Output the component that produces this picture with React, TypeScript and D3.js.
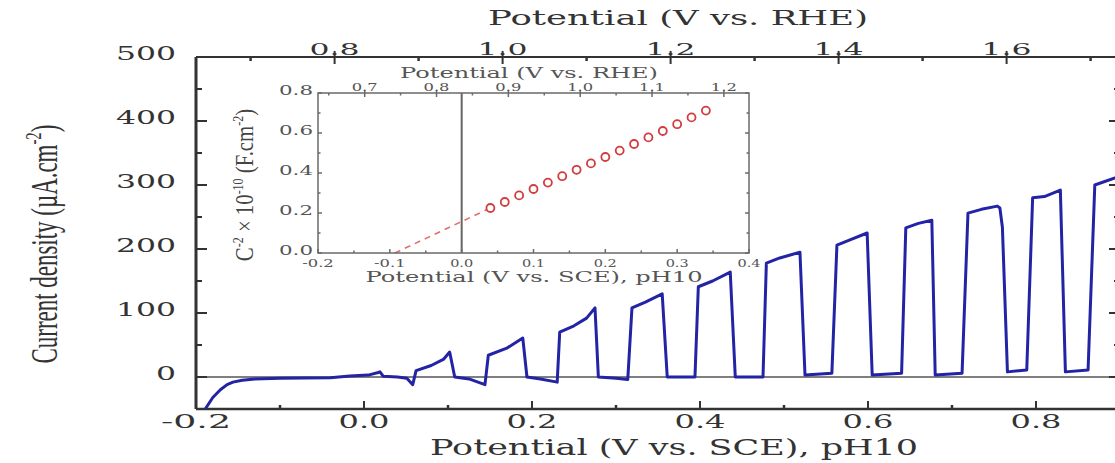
import React from 'react';
import * as d3 from 'd3';

// photocurrent under chopped light, potential vs SCE (V) and current density (uA/cm2)
const scePotential = [
  -0.189, -0.18, -0.171, -0.163, -0.156, -0.145, -0.13, -0.1, -0.07, -0.04, -0.017, 0.005, 0.017, 0.019, 0.023, 0.04, 0.051, 0.058,
  0.062, 0.08, 0.095, 0.102, 0.108, 0.125, 0.144,
  0.148, 0.17, 0.189, 0.194, 0.21, 0.23,
  0.233, 0.25, 0.265, 0.275, 0.279, 0.3, 0.314,
  0.319, 0.335, 0.355, 0.361, 0.394,
  0.398, 0.415, 0.436, 0.442, 0.475,
  0.479, 0.495, 0.519, 0.525, 0.557,
  0.563, 0.58, 0.599, 0.605, 0.64,
  0.645, 0.66, 0.676, 0.68, 0.712,
  0.719, 0.735, 0.754, 0.757, 0.76, 0.766, 0.789,
  0.796, 0.81, 0.829, 0.835, 0.862,
  0.87, 0.894, 0.91,
];
const currentDensity = [
  -50, -32, -20, -12, -8, -5, -3, -2, -1.5, -1, 1.5, 3, 7, 8, 1, 0, -2, -12,
  10, 18, 28, 39, 0, -3, -12,
  34, 45, 61, 0, -3, -8,
  70, 80, 92, 108, 0, -2, -4,
  108, 117, 130, 0, 0,
  141, 150, 164, 0, 0,
  178, 186, 195, 3, 6,
  206, 215, 225, 3, 6,
  233, 240, 245, 3, 6,
  256, 262, 267, 264, 234, 8, 11,
  280, 282, 292, 8, 11,
  300, 311, 315,
];

// Mott-Schottky inset
const msPotential = [0.04, 0.06, 0.08, 0.1, 0.12, 0.14, 0.16, 0.18, 0.2, 0.22, 0.24, 0.26, 0.28, 0.3, 0.32, 0.34];
const msValue = [0.225, 0.255, 0.288, 0.32, 0.352, 0.384, 0.416, 0.448, 0.48, 0.512, 0.545, 0.578, 0.61, 0.644, 0.678, 0.712];
const fitLine = [[-0.093, 0], [0.04, 0.225]];

const mainYTicks = [0, 100, 200, 300, 400, 500];
const mainXTicks = [-0.2, 0.0, 0.2, 0.4, 0.6, 0.8];
const mainTopTicks = [0.8, 1.0, 1.2, 1.4, 1.6];
const insetXTicks = [-0.2, -0.1, 0.0, 0.1, 0.2, 0.3, 0.4];
const insetYTicks = [0, 0.2, 0.4, 0.6, 0.8];
const insetTopTicks = [0.7, 0.8, 0.9, 1.0, 1.1, 1.2];

const RHE_SHIFT = 0.835;

const W = 1115, H = 463;
const serif = 'DejaVu Serif';

// width of a stretched numeric label
const labelW = (s: string, d: number, p: number, m: number) =>
  s.split('').reduce((a, c) => a + (c === '.' ? p : c === '-' ? m : d), 0);

export default function App() {
  const x = d3.scaleLinear().domain([-0.2, 0.9]).range([196, 1120]);
  const y = d3.scaleLinear().domain([-50, 500]).range([409, 57]);
  const xr = (v: number) => x(v - RHE_SHIFT);

  const ix = d3.scaleLinear().domain([-0.2, 0.4]).range([318, 749]);
  const iy = d3.scaleLinear().domain([0, 0.8]).range([253, 93]);
  const ixr = (v: number) => ix(v - RHE_SHIFT);

  const line = d3.line<number>()
    .x((d, i) => x(scePotential[i]))
    .y(d => y(d));

  const [x0, x1] = x.range();
  const [yb, yt] = y.range();
  const [ix0, ix1] = ix.range();
  const [iyb, iyt] = iy.range();

  const mainMinorY = d3.range(50, 500, 100);
  const mainMinorX = d3.range(-0.1, 0.95, 0.2);
  const mainMinorTop = d3.range(0.7, 1.8, 0.2);
  const insetMinorX = d3.range(-0.15, 0.4, 0.1);
  const insetMinorY = d3.range(0.1, 0.8, 0.2);
  const insetMinorTop = d3.range(0.65, 1.25, 0.1);

  const axisCol = '#333';
  const insetCol = '#6a6a6a';

  return (
    <svg width={W} height={H} style={{ position: 'absolute', left: 0, top: 0, background: '#fff' }}>
      <defs>
        <clipPath id="plotClip">
          <rect x={x0} y={yt} width={x1 - x0} height={yb - yt} />
        </clipPath>
      </defs>

      {/* top title */}
      <text x={678} y={25} fontFamily={serif} fontSize={21} fill="#333" textAnchor="middle"
        textLength={380} lengthAdjust="spacingAndGlyphs">Potential (V vs. RHE)</text>

      {/* zero line */}
      <line x1={x0} x2={x1} y1={y(0)} y2={y(0)} stroke="#555" strokeWidth={1.5} />

      {/* frame */}
      <line x1={x0} x2={x1} y1={yt} y2={yt} stroke={axisCol} strokeWidth={2} />
      <line x1={x0} x2={x1} y1={yb} y2={yb} stroke={axisCol} strokeWidth={2.5} />
      <line x1={x0} x2={x0} y1={yt} y2={yb} stroke={axisCol} strokeWidth={3} />
      <line x1={x1} x2={x1} y1={yt} y2={yb} stroke={axisCol} strokeWidth={2} />

      {/* left/right ticks */}
      {mainYTicks.map(t => (
        <g key={'ly' + t}>
          <line x1={x0} x2={x0 + 11} y1={y(t)} y2={y(t)} stroke={axisCol} strokeWidth={2} />
          <line x1={x1} x2={x1 - 11} y1={y(t)} y2={y(t)} stroke={axisCol} strokeWidth={2} />
          <text x={176} y={y(t) - 4} dy="0.35em" textAnchor="end" fontFamily={serif} fontSize={19} fill="#333"
            textLength={labelW(String(t), 20, 12, 14)} lengthAdjust="spacingAndGlyphs">{t}</text>
        </g>
      ))}
      {mainMinorY.map(t => (
        <g key={'my' + t}>
          <line x1={x0} x2={x0 + 6} y1={y(t)} y2={y(t)} stroke={axisCol} strokeWidth={2} />
          <line x1={x1} x2={x1 - 6} y1={y(t)} y2={y(t)} stroke={axisCol} strokeWidth={2} />
        </g>
      ))}

      {/* bottom ticks */}
      {mainXTicks.map(t => (
        <g key={'bx' + t}>
          <line x1={x(t)} x2={x(t)} y1={yb} y2={yb - 8} stroke={axisCol} strokeWidth={2} />
          <text x={x(t)} y={421} dy="0.35em" textAnchor="middle" fontFamily={serif} fontSize={19} fill="#333"
            textLength={labelW(d3.format('.1f')(t), 19, 13, 14)} lengthAdjust="spacingAndGlyphs">
            {d3.format('.1f')(t).replace('−', '-')}
          </text>
        </g>
      ))}
      {mainMinorX.map(t => (
        <line key={'mbx' + t} x1={x(t)} x2={x(t)} y1={yb} y2={yb - 4} stroke={axisCol} strokeWidth={2.5} />
      ))}
      <text x={674} y={455} fontFamily={serif} fontSize={23} fill="#333" textAnchor="middle"
        textLength={488} lengthAdjust="spacingAndGlyphs">Potential (V vs. SCE), pH10</text>

      {/* top ticks (RHE) */}
      {mainTopTicks.map(t => (
        <g key={'tx' + t}>
          <line x1={xr(t)} x2={xr(t)} y1={yt - 6} y2={yt + 7} stroke={axisCol} strokeWidth={2} />
          <text x={xr(t)} y={49} dy="0.35em" textAnchor="middle" fontFamily={serif} fontSize={17} fill="#333"
            textLength={labelW(t.toFixed(1), 18, 14, 12)} lengthAdjust="spacingAndGlyphs">{t.toFixed(1)}</text>
        </g>
      ))}
      {mainMinorTop.map(t => (
        <line key={'mtx' + t} x1={xr(t)} x2={xr(t)} y1={yt} y2={yt + 4} stroke={axisCol} strokeWidth={2.5} />
      ))}

      {/* y label */}
      <g transform="translate(57,244) rotate(-90)">
        <text transform="scale(0.62,1)" textAnchor="middle" fontFamily="Liberation Serif" fontSize={37} fill="#333">
          Current density (µA.cm<tspan dy={-16} fontSize={24}>-2</tspan><tspan dy={16}>)</tspan>
        </text>
      </g>

      {/* photocurrent */}
      <path d={line(currentDensity) || ''} fill="none" stroke="#2323a6" strokeWidth={3}
        strokeLinejoin="round" clipPath="url(#plotClip)" />

      {/* inset */}
      <g>
        <rect x={ix0} y={iyt} width={ix1 - ix0} height={iyb - iyt} fill="#fff" />
        <line x1={ix(0)} x2={ix(0)} y1={iyt} y2={iyb} stroke="#666" strokeWidth={2} />
        <path d={d3.line()(fitLine.map(p => [ix(p[0]), iy(p[1])] as [number, number])) || ''}
          fill="none" stroke="#e07070" strokeWidth={1.6} strokeDasharray="6,5" />
        {msPotential.map((v, i) => (
          <circle key={'ms' + i} cx={ix(v)} cy={iy(msValue[i])} r={4} fill="#fff" stroke="#d23c3c" strokeWidth={1.8} />
        ))}

        <rect x={ix0} y={iyt} width={ix1 - ix0} height={iyb - iyt} fill="none" stroke={insetCol} strokeWidth={1.5} />

        {insetXTicks.map(t => (
          <g key={'ixt' + t}>
            <line x1={ix(t)} x2={ix(t)} y1={iyb} y2={iyb - 4} stroke={insetCol} strokeWidth={1.5} />
            <text x={ix(t)} y={263} dy="0.35em" textAnchor="middle" fontFamily={serif} fontSize={11} fill="#555"
              textLength={labelW(d3.format('.1f')(t), 8.5, 6, 6)} lengthAdjust="spacingAndGlyphs">
              {d3.format('.1f')(t).replace('−', '-')}
            </text>
          </g>
        ))}
        {insetMinorX.map(t => (
          <line key={'ixm' + t} x1={ix(t)} x2={ix(t)} y1={iyb} y2={iyb - 2.5} stroke={insetCol} strokeWidth={1.5} />
        ))}
        {insetYTicks.map(t => (
          <g key={'iyt' + t}>
            <line x1={ix0} x2={ix0 + 4} y1={iy(t)} y2={iy(t)} stroke={insetCol} strokeWidth={1.5} />
            <line x1={ix1} x2={ix1 - 4} y1={iy(t)} y2={iy(t)} stroke={insetCol} strokeWidth={1.5} />
            <text x={313} y={iy(t) - 2} dy="0.35em" textAnchor="end" fontFamily={serif} fontSize={12} fill="#555"
              textLength={labelW(t.toFixed(1), 12.5, 9, 8)} lengthAdjust="spacingAndGlyphs">{t.toFixed(1)}</text>
          </g>
        ))}
        {insetMinorY.map(t => (
          <g key={'iym' + t}>
            <line x1={ix0} x2={ix0 + 2.5} y1={iy(t)} y2={iy(t)} stroke={insetCol} strokeWidth={1.5} />
            <line x1={ix1} x2={ix1 - 2.5} y1={iy(t)} y2={iy(t)} stroke={insetCol} strokeWidth={1.5} />
          </g>
        ))}
        {insetTopTicks.map(t => (
          <g key={'itt' + t}>
            <line x1={ixr(t)} x2={ixr(t)} y1={iyt - 3} y2={iyt + 4} stroke={insetCol} strokeWidth={1.5} />
            <text x={ixr(t)} y={87} dy="0.35em" textAnchor="middle" fontFamily={serif} fontSize={11} fill="#555"
              textLength={labelW(t.toFixed(1), 9.5, 7, 7)} lengthAdjust="spacingAndGlyphs">{t.toFixed(1)}</text>
          </g>
        ))}
        {insetMinorTop.map(t => (
          <line key={'itm' + t} x1={ixr(t)} x2={ixr(t)} y1={iyt} y2={iyt + 2.5} stroke={insetCol} strokeWidth={1.5} />
        ))}

        <text x={529} y={78} fontFamily={serif} fontSize={14} fill="#555" textAnchor="middle"
          textLength={258} lengthAdjust="spacingAndGlyphs">Potential (V vs. RHE)</text>
        <text x={534} y={282} fontFamily={serif} fontSize={15} fill="#555" textAnchor="middle"
          textLength={337} lengthAdjust="spacingAndGlyphs">Potential (V vs. SCE), pH10</text>

        <g transform="translate(253,185) rotate(-90)">
          <text transform="scale(0.8,1)" textAnchor="middle" fontFamily="Liberation Serif" fontSize={26} fill="#444">
            C<tspan dy={-10} fontSize={15}>-2</tspan><tspan dy={10}> × 10</tspan><tspan dy={-10} fontSize={15}>-10</tspan>
            <tspan dy={10}> (F.cm</tspan><tspan dy={-10} fontSize={15}>-2</tspan><tspan dy={10}>)</tspan>
          </text>
        </g>
      </g>
    </svg>
  );
}
